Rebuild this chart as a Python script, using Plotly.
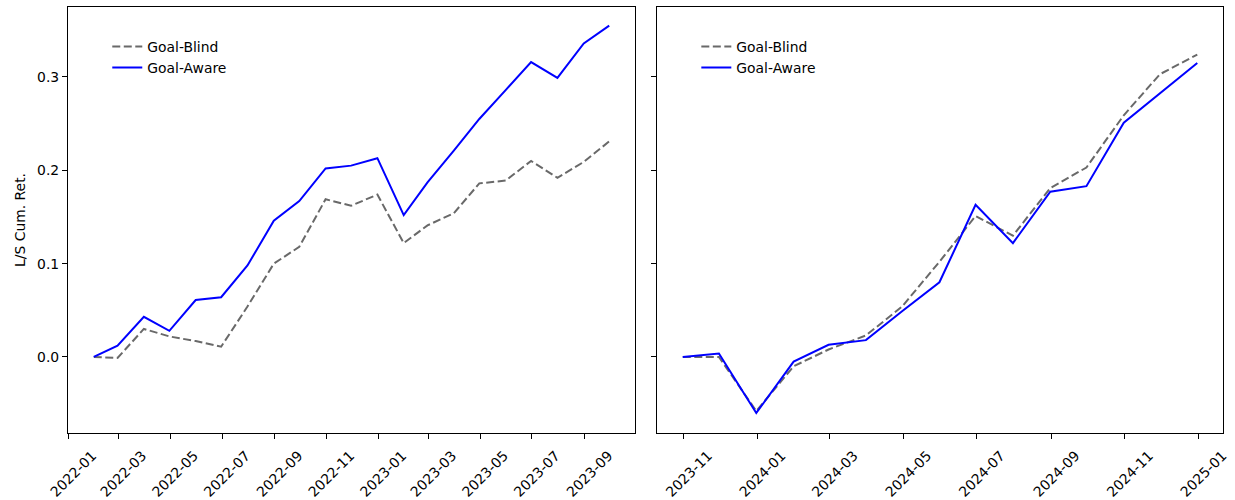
import plotly.graph_objects as go

# ---- data ----
dates_p1 = ["2022-01-31", "2022-02-28", "2022-03-31", "2022-04-30", "2022-05-31", "2022-06-30",
            "2022-07-31", "2022-08-31", "2022-09-30", "2022-10-31", "2022-11-30", "2022-12-31",
            "2023-01-31", "2023-02-28", "2023-03-31", "2023-04-30", "2023-05-31", "2023-06-30",
            "2023-07-31", "2023-08-31", "2023-09-30"]
blind_p1 = [0.0, -0.001, 0.030, 0.022, 0.017, 0.011, 0.054, 0.100, 0.118, 0.169, 0.162, 0.174,
            0.122, 0.141, 0.154, 0.186, 0.189, 0.210, 0.192, 0.209, 0.231]
aware_p1 = [0.0, 0.012, 0.043, 0.028, 0.061, 0.064, 0.098, 0.146, 0.167, 0.202, 0.205, 0.213,
            0.152, 0.187, 0.221, 0.255, 0.286, 0.316, 0.299, 0.336, 0.355]

dates_p2 = ["2023-10-31", "2023-11-30", "2023-12-31", "2024-01-31", "2024-02-29", "2024-03-31",
            "2024-04-30", "2024-05-31", "2024-06-30", "2024-07-31", "2024-08-31", "2024-09-30",
            "2024-10-31", "2024-11-30", "2024-12-31"]
blind_p2 = [0.0, 0.0, -0.058, -0.010, 0.008, 0.023, 0.054, 0.102, 0.151, 0.130, 0.181, 0.203,
            0.259, 0.303, 0.324]
aware_p2 = [0.0, 0.0036, -0.060, -0.005, 0.013, 0.018, 0.049, 0.080, 0.163, 0.122, 0.177, 0.183,
            0.251, 0.282, 0.315]

ticks_p1 = ["2022-01-01", "2022-03-01", "2022-05-01", "2022-07-01", "2022-09-01", "2022-11-01",
            "2023-01-01", "2023-03-01", "2023-05-01", "2023-07-01", "2023-09-01"]
ticks_p2 = ["2023-11-01", "2024-01-01", "2024-03-01", "2024-05-01", "2024-07-01", "2024-09-01",
            "2024-11-01", "2025-01-01"]
yticks = [0.0, 0.1, 0.2, 0.3]

series_names = ["Goal-Blind", "Goal-Aware"]
GRAY = "#696969"
BLUE = "#0000ff"
FONT = "DejaVu Sans"
FS = 13.9

fig = go.Figure()
for (dates, blind, aware, xa, ya, lg, grp) in [
    (dates_p1, blind_p1, aware_p1, "x", "y", "legend", "a"),
    (dates_p2, blind_p2, aware_p2, "x2", "y2", "legend2", "b"),
]:
    fig.add_trace(go.Scatter(x=dates, y=blind, mode="lines", name=series_names[0],
                             line=dict(color=GRAY, width=2, dash="8px,3.5px"),
                             xaxis=xa, yaxis=ya, legend=lg, legendgroup=grp + "1"))
    fig.add_trace(go.Scatter(x=dates, y=aware, mode="lines", name=series_names[1],
                             line=dict(color=BLUE, width=2),
                             xaxis=xa, yaxis=ya, legend=lg, legendgroup=grp + "2"))

axis_common = dict(showline=True, linecolor="black", linewidth=1.1, mirror=True,
                   ticks="outside", ticklen=5, tickwidth=1.1, tickcolor="black",
                   showgrid=False, zeroline=False, automargin=False,
                   tickfont=dict(family=FONT, size=FS, color="black"))
xlab = dict(tickangle=-45, ticklabelshift=24, ticklabelstandoff=3)

yrange = [-0.0815, 0.375]

fig.update_layout(
    width=1235, height=500,
    margin=dict(l=68, r=12, t=7, b=67),
    plot_bgcolor="white", paper_bgcolor="white",
    font=dict(family=FONT, size=FS, color="black"),
    xaxis=dict(domain=[0, 0.4909], type="date",
               range=["2021-12-31 15:36", "2023-10-30 08:24"],
               tickvals=ticks_p1, ticktext=[t[:7] for t in ticks_p1],
               **xlab, **axis_common),
    xaxis2=dict(domain=[0.51, 1.0], type="date", anchor="y2",
                range=["2023-10-09 15:36", "2025-01-21 08:24"],
                tickvals=ticks_p2, ticktext=[t[:7] for t in ticks_p2],
                **xlab, **axis_common),
    yaxis=dict(range=yrange, tickvals=yticks, ticktext=[f"{v:.1f}" for v in yticks],
               title=dict(text="L/S Cum. Ret.", standoff=8,
                          font=dict(family=FONT, size=FS, color="black")),
               **axis_common),
    yaxis2=dict(range=yrange, tickvals=yticks, showticklabels=False, anchor="x2",
                matches="y", **axis_common),
    legend=dict(x=0.034, y=0.944, xanchor="left", yanchor="top", bgcolor="rgba(0,0,0,0)",
                font=dict(family=FONT, size=FS), tracegroupgap=0, itemwidth=30),
    legend2=dict(x=0.544, y=0.944, xanchor="left", yanchor="top", bgcolor="rgba(0,0,0,0)",
                 font=dict(family=FONT, size=FS), tracegroupgap=0, itemwidth=30),
    showlegend=True,
)

fig.write_html("out.html", config={"displayModeBar": False},
               post_script="document.body.style.margin='0';")
